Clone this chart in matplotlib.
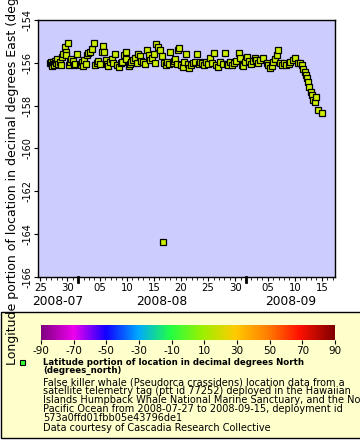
import matplotlib
matplotlib.use("Agg")
import matplotlib.pyplot as plt
import matplotlib.dates as mdates
from matplotlib.colors import LinearSegmentedColormap
from matplotlib.patches import Rectangle
import numpy as np
import pandas as pd

plt.rcParams["axes.unicode_minus"] = False

# fix times (UTC) and longitude (degrees east)
times = [
    "2008-07-26 20:00", "2008-07-26 22:00", "2008-07-27 02:00", "2008-07-27 05:00",
    "2008-07-27 08:00", "2008-07-27 11:00", "2008-07-27 14:00", "2008-07-27 17:00",
    "2008-07-27 21:00", "2008-07-28 02:00", "2008-07-28 08:00", "2008-07-28 14:00",
    "2008-07-28 20:00", "2008-07-29 00:00", "2008-07-29 06:00", "2008-07-29 12:00",
    "2008-07-29 16:00", "2008-07-29 20:00", "2008-07-30 02:00", "2008-07-30 08:00",
    "2008-07-30 12:00", "2008-07-30 18:00", "2008-07-31 00:00", "2008-07-31 06:00",
    "2008-07-31 12:00", "2008-07-31 21:00",
    "2008-08-01 06:00", "2008-08-01 12:00", "2008-08-01 16:00", "2008-08-01 20:00",
    "2008-08-02 04:00", "2008-08-02 10:00", "2008-08-02 17:00", "2008-08-02 20:00",
    "2008-08-03 06:00", "2008-08-03 12:00", "2008-08-03 20:00", "2008-08-04 04:00",
    "2008-08-04 12:00", "2008-08-04 18:00", "2008-08-05 02:00", "2008-08-05 09:00",
    "2008-08-05 16:00", "2008-08-05 20:00", "2008-08-06 02:00", "2008-08-06 08:00",
    "2008-08-06 14:00", "2008-08-06 20:00", "2008-08-07 04:00", "2008-08-07 12:00",
    "2008-08-07 20:00", "2008-08-08 04:00", "2008-08-08 12:00", "2008-08-08 20:00",
    "2008-08-09 04:00", "2008-08-09 12:00", "2008-08-09 18:00", "2008-08-09 22:00",
    "2008-08-10 08:00", "2008-08-10 14:00", "2008-08-10 20:00", "2008-08-11 04:00",
    "2008-08-11 12:00", "2008-08-11 20:00", "2008-08-12 03:00", "2008-08-12 08:00",
    "2008-08-12 16:00", "2008-08-13 01:00", "2008-08-13 10:00", "2008-08-13 19:00",
    "2008-08-14 00:00", "2008-08-14 08:00", "2008-08-14 14:00", "2008-08-14 22:00",
    "2008-08-15 06:00", "2008-08-15 10:00", "2008-08-15 18:00", "2008-08-16 03:00",
    "2008-08-16 10:00", "2008-08-16 15:00", "2008-08-16 20:00", "2008-08-17 04:00",
    "2008-08-17 10:00", "2008-08-17 18:00", "2008-08-18 00:00", "2008-08-18 10:00",
    "2008-08-18 16:00", "2008-08-18 22:00", "2008-08-19 08:00", "2008-08-19 12:00",
    "2008-08-19 16:00", "2008-08-20 00:00", "2008-08-20 08:00", "2008-08-20 14:00",
    "2008-08-20 21:00", "2008-08-21 06:00", "2008-08-21 13:00", "2008-08-21 20:00",
    "2008-08-22 04:00", "2008-08-22 12:00", "2008-08-22 21:00", "2008-08-23 06:00",
    "2008-08-23 14:00", "2008-08-23 22:00", "2008-08-24 06:00", "2008-08-24 14:00",
    "2008-08-24 22:00", "2008-08-25 09:00", "2008-08-25 18:00", "2008-08-26 04:00",
    "2008-08-26 12:00", "2008-08-26 20:00", "2008-08-27 06:00", "2008-08-27 16:00",
    "2008-08-28 03:00", "2008-08-28 10:00", "2008-08-28 18:00", "2008-08-29 01:00",
    "2008-08-29 10:00", "2008-08-29 18:00", "2008-08-30 04:00", "2008-08-30 18:00",
    "2008-08-30 22:00", "2008-08-31 08:00", "2008-08-31 12:00", "2008-08-31 20:00",
    "2008-09-01 06:00", "2008-09-01 14:00", "2008-09-01 22:00", "2008-09-02 08:00",
    "2008-09-02 16:00", "2008-09-02 22:00", "2008-09-03 06:00", "2008-09-03 14:00",
    "2008-09-04 04:00", "2008-09-04 19:00", "2008-09-05 02:00", "2008-09-05 10:00",
    "2008-09-05 18:00", "2008-09-06 01:00", "2008-09-06 08:00", "2008-09-06 16:00",
    "2008-09-06 20:00", "2008-09-07 06:00", "2008-09-07 14:00", "2008-09-08 00:00",
    "2008-09-08 10:00", "2008-09-08 20:00", "2008-09-09 03:00", "2008-09-09 18:00",
    "2008-09-10 01:00", "2008-09-10 12:00", "2008-09-10 23:00", "2008-09-11 06:00",
    "2008-09-11 10:00", "2008-09-11 21:00", "2008-09-12 02:00", "2008-09-12 05:00",
    "2008-09-12 12:00", "2008-09-12 15:00", "2008-09-12 22:00", "2008-09-13 03:00",
    "2008-09-13 10:00", "2008-09-13 17:00", "2008-09-13 22:00", "2008-09-14 08:00",
    "2008-09-14 23:00",
]
longitude = [
    -156.02, -155.95, -156.10, -156.15, -155.98, -156.05, -156.12, -155.92,
    -156.00, -155.84, -156.05, -155.95, -156.08, -155.71, -155.60, -155.25,
    -155.48, -155.64, -155.06, -156.08, -155.98, -155.84, -155.90, -156.12,
    -156.05, -155.60,
    -156.05, -156.12, -155.95, -156.15, -155.87, -156.05, -155.64, -155.56,
    -155.48, -155.37, -155.09, -156.10, -156.02, -155.92, -156.05, -155.48,
    -155.21, -155.48, -155.87, -156.05, -156.15, -155.95, -155.84, -156.02,
    -155.60, -156.10, -156.18, -156.02, -155.95, -155.64, -155.48, -155.84,
    -156.15, -156.05, -155.95, -155.87, -155.79, -156.02, -155.60, -155.70,
    -155.90, -155.95, -156.05, -155.40, -155.64, -155.85, -155.79, -155.60,
    -156.00, -155.14, -155.25, -155.40, -155.70, -164.36, -156.02, -156.10,
    -155.95, -156.05, -155.48, -156.02, -155.90, -155.84, -156.05, -155.40,
    -155.32, -156.10, -156.18, -155.95, -155.60, -156.05, -156.26, -156.10,
    -156.02, -155.95, -155.60, -156.05, -155.95, -156.02, -156.10, -155.95,
    -156.05, -155.79, -156.02, -155.56, -156.08, -156.18, -155.95, -156.05,
    -155.56, -156.05, -156.12, -155.98, -156.10, -156.02, -155.90, -155.53,
    -155.79, -156.08, -156.15, -155.98,
    -155.71, -155.92, -156.05, -155.90, -155.79, -155.85, -156.00, -155.87,
    -155.79, -156.02, -156.10, -156.26, -156.15, -155.95, -155.84, -155.64,
    -155.40, -156.02, -156.08, -156.02, -156.10, -156.05, -155.98, -155.87,
    -155.76, -156.02, -156.00, -156.10, -156.30, -156.41, -156.57, -156.73,
    -156.88, -157.12, -157.35, -157.50, -157.74, -157.85, -157.61, -158.21,
    -158.36,
]
cbar_ticks = [-90, -70, -50, -30, -10, 10, 30, 50, 70, 90]
legend_title = "Latitude portion of location in decimal degrees North\n(degrees_north)"
legend_body = ("False killer whale (Pseudorca crassidens) location data from a\n"
               "satellite telemetry tag (ptt id 77252) deployed in the Hawaiian\n"
               "Islands Humpback Whale National Marine Sanctuary, and the North\n"
               "Pacific Ocean from 2008-07-27 to 2008-09-15, deployment id\n"
               "573a0ffd01fbb05e43796de1\n"
               "Data courtesy of Cascadia Research Collective")

t = pd.to_datetime(times)

fig = plt.figure(figsize=(3.6, 4.4), dpi=100)
fig.patch.set_facecolor("white")

# legend panel (behind everything else)
fig.patches.append(Rectangle((1 / 360, 2 / 440), 1.0, 126 / 440, transform=fig.transFigure,
                             facecolor="#ffffcc", edgecolor="black", linewidth=1, zorder=-5))

ax = fig.add_axes([38 / 360, 1 - 277 / 440, 297 / 360, 257 / 440])
ax.set_facecolor("#ccccff")
ax.plot(t, longitude, linestyle="none", marker="s", markersize=4.8,
        markerfacecolor="#ccee00", markeredgecolor="black", markeredgewidth=0.9)

x0 = pd.Timestamp("2008-07-24 14:00")
x1 = pd.Timestamp("2008-09-17 10:00")
ax.set_xlim(x0, x1)
ax.set_ylim(-166, -154)
ax.set_yticks(np.arange(-166, -153, 2))
ax.tick_params(axis="y", labelsize=7, length=3, pad=1, labelrotation=90)
for lab in ax.get_yticklabels():
    lab.set_verticalalignment("center")
ax.set_ylabel("Longitude portion of location in decimal degrees East (degrees_east)",
              fontsize=9, labelpad=2.5)

ax.xaxis.set_major_locator(mdates.DayLocator(bymonthday=[5, 10, 15, 20, 25, 30]))
ax.xaxis.set_major_formatter(mdates.DateFormatter("%d"))
ax.xaxis.set_minor_locator(mdates.DayLocator())
ax.tick_params(axis="x", which="major", labelsize=7.3, length=3, pad=1.5)
ax.tick_params(axis="x", which="minor", length=2)
for sp in ax.spines.values():
    sp.set_linewidth(1)

# month boundary ticks and month labels centred on the visible part of each month
months = pd.date_range("2008-07-01", "2008-10-01", freq="MS")
for m0, m1 in zip(months[:-1], months[1:]):
    if x0 < m0 < x1:
        ax.plot([m0, m0], [0, -0.018], transform=ax.get_xaxis_transform(),
                color="black", linewidth=2, clip_on=False)
    a, b = max(m0, x0), min(m1, x1)
    mid = a + (b - a) / 2
    ax.text(mid, -0.097, m0.strftime("%Y-%m"), transform=ax.get_xaxis_transform(),
            ha="center", va="center", fontsize=8.8)

# colour bar
cmap = LinearSegmentedColormap.from_list("rainbow2", [
    (0.0, "#800080"), (0.11, "#ee00ee"), (0.22, "#1100ff"), (0.33, "#00a8ff"),
    (0.44, "#22ff44"), (0.55, "#9cf000"), (0.66, "#ffcc00"), (0.77, "#ff8000"),
    (0.88, "#ff1100"), (1.0, "#800000")])
cax = fig.add_axes([41 / 360, 1 - 340 / 440, 294 / 360, 15 / 440])
grad = np.linspace(-90, 90, 256).reshape(1, -1)
cax.imshow(grad, aspect="auto", cmap=cmap, extent=[-90, 90, 0, 1])
cax.set_xlim(-90, 90)
cax.set_xticks(cbar_ticks)
cax.set_yticks([])
cax.tick_params(axis="x", labelsize=7.5, length=3, pad=1)
for sp in cax.spines.values():
    sp.set_visible(False)

# legend entry
fig.add_artist(Rectangle((19.5 / 360, 1 - 364.5 / 440), 5 / 360, 5 / 440,
                         transform=fig.transFigure,
                         facecolor="#33ff33", edgecolor="black", linewidth=0.8))
fig.text(43 / 360, 1 - 358 / 440, legend_title, fontsize=6.2, fontweight="bold",
         va="top", ha="left", linespacing=0.9)
fig.text(43 / 360, 1 - 377 / 440, legend_body, fontsize=7.0, va="top", ha="left",
         linespacing=0.89)

fig.savefig("out.png", dpi=100)
